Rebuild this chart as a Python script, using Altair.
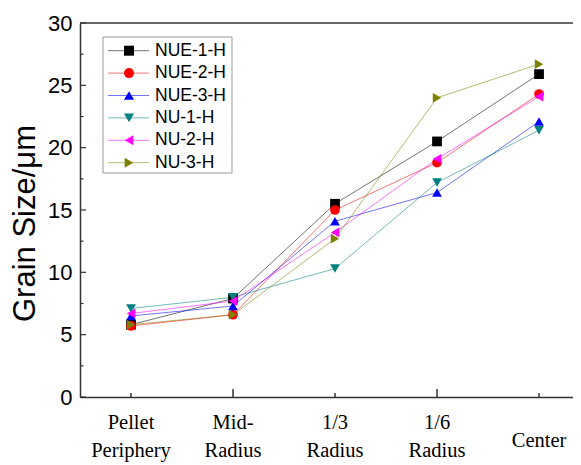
import altair as alt
import pandas as pd

series = ["NUE-1-H", "NUE-2-H", "NUE-3-H", "NU-1-H", "NU-2-H", "NU-3-H"]
categories = ["Pellet\nPeriphery", "Mid-\nRadius", "1/3\nRadius", "1/6\nRadius", "Center"]
positions = [1, 2, 3, 4, 5]

nue1 = [5.8, 7.9, 15.5, 20.5, 25.9]
nue2 = [5.7, 6.6, 15.0, 18.8, 24.3]
nue3 = [6.5, 7.3, 14.1, 16.4, 22.1]
nu1 = [7.1, 8.0, 10.3, 17.2, 21.4]
nu2 = [6.7, 7.7, 13.2, 19.1, 24.1]
nu3 = [5.8, 6.6, 12.7, 24.0, 26.7]
all_vals = [nue1, nue2, nue3, nu1, nu2, nu3]

colors = ["#000000", "#ff0000", "#0000ff", "#008080", "#ff00ff", "#808000"]
shapes = ["square", "circle", "triangle-up", "triangle-down", "triangle-left", "triangle-right"]

y_major_ticks = [0, 5, 10, 15, 20, 25, 30]
y_minor_ticks = [2.5, 7.5, 12.5, 17.5, 22.5, 27.5]
x_major_ticks = [2, 4]
x_minor_ticks = [1, 3, 5]

rows = []
for si, (s, vals) in enumerate(zip(series, all_vals)):
    for p, v in zip(positions, vals):
        rows.append({"series": s, "order": si, "pos": p, "value": v})
df = pd.DataFrame(rows)

W, H = 493, 374
AX = "#333333"

xscale = alt.Scale(domain=[0.5, 5.333], nice=False, zero=False)
yscale = alt.Scale(domain=[0, 30], nice=False)

xaxis = alt.Axis(labels=False, ticks=False, title="", grid=False,
                 domainColor=AX, domainWidth=1.5)
yaxis = alt.Axis(values=y_major_ticks, ticks=False, tickSize=0, grid=False,
                 labelFontSize=22, labelFont="Liberation Sans", labelColor="black",
                 labelPadding=8, domainColor=AX, domainWidth=1.5,
                 title="Grain Size/μm", titleFontSize=31, titleFont="Liberation Sans",
                 titleFontWeight="normal", titleColor="black",
                 titleX=-46, titleY=200, titleAngle=-90,
                 titleBaseline="alphabetic", titleAlign="center")

xenc = alt.X("pos:Q", scale=xscale, axis=xaxis)
yenc = alt.Y("value:Q", scale=yscale, axis=yaxis)

color = alt.Color("series:N", scale=alt.Scale(domain=series, range=colors), legend=None)
shape = alt.Shape("series:N", scale=alt.Scale(domain=series, range=shapes), legend=None)

lines = alt.Chart(df).mark_line(strokeWidth=1, opacity=0.55).encode(
    x=xenc, y=yenc, color=color, detail="series:N", order="pos:Q")
points = alt.Chart(df).mark_point(filled=True, size=95, opacity=1).encode(
    x=xenc, y=yenc, color=color, shape=shape)

one = pd.DataFrame({"a": [0]})
top_line = alt.Chart(one).mark_rule(color=AX, strokeWidth=1.5).encode(
    x=alt.value(0), x2=alt.value(W), y=alt.value(0))

y_major = alt.Chart(pd.DataFrame({"value": y_major_ticks})).mark_rule(
    color=AX, strokeWidth=1.2).encode(y=yenc, x=alt.value(0), x2=alt.value(6))
y_minor = alt.Chart(pd.DataFrame({"value": y_minor_ticks})).mark_rule(
    color=AX, strokeWidth=1.2).encode(y=yenc, x=alt.value(0), x2=alt.value(3.5))
x_major = alt.Chart(pd.DataFrame({"pos": x_major_ticks})).mark_rule(
    color=AX, strokeWidth=1.5).encode(x=xenc, y=alt.value(H), y2=alt.value(H - 8))
x_minor = alt.Chart(pd.DataFrame({"pos": x_minor_ticks})).mark_rule(
    color=AX, strokeWidth=1.5).encode(x=xenc, y=alt.value(H), y2=alt.value(H - 4))

x_labels = alt.Chart(pd.DataFrame({"pos": positions, "label": categories})).transform_calculate(
    ly=f"indexof(datum.label, '\\n') >= 0 ? {H + 26} : {H + 44}"
).mark_text(
    font="Liberation Serif", fontSize=20.5, lineBreak="\n", lineHeight=28,
    baseline="middle", align="center", color="black").encode(
    x=xenc, y=alt.Y("ly:Q", scale=None), text="label:N")

leg = pd.DataFrame({"series": series, "i": list(range(len(series)))})
leg_base = alt.Chart(leg).transform_calculate(py="27.7 + datum.i * 22.4")
py = alt.Y("py:Q", scale=None)

leg_box = alt.Chart(one).mark_rect(fill="white", stroke="#999999", strokeWidth=1).encode(
    x=alt.value(23), x2=alt.value(152), y=alt.value(14), y2=alt.value(150))
leg_lines = leg_base.mark_rule(strokeWidth=1, opacity=0.55).encode(
    y=py, x=alt.value(28), x2=alt.value(69), color=color)
leg_pts = leg_base.mark_point(filled=True, size=100, opacity=1).encode(
    y=py, x=alt.value(49), color=color, shape=shape)
leg_txt = leg_base.mark_text(align="left", baseline="middle", fontSize=17.5,
                             font="Liberation Sans", color="black").encode(
    y=py, x=alt.value(75), text="series:N")

chart = alt.layer(
    top_line, y_major, y_minor, x_major, x_minor, lines, points, x_labels,
    leg_box, leg_lines, leg_pts, leg_txt
).properties(
    width=W, height=H,
    autosize=alt.AutoSizeParams(type="none"),
    padding={"left": 72, "top": 15, "right": 0, "bottom": 68},
).configure_view(strokeWidth=0)

chart.save("out.html", embed_options={"renderer": "svg", "actions": False})
